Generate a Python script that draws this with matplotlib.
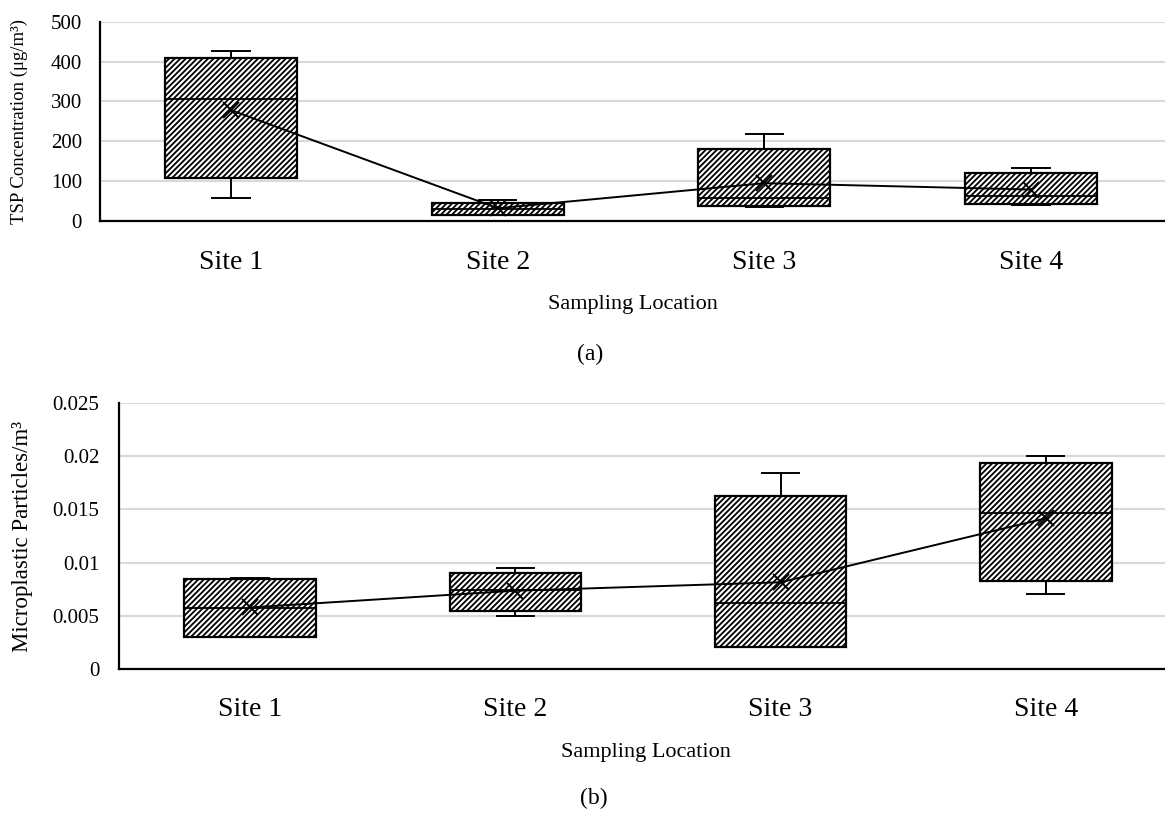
import matplotlib
matplotlib.use("Agg")
import matplotlib.pyplot as plt

plt.rcParams['font.family'] = ['Liberation Serif', 'DejaVu Serif']
plt.rcParams['hatch.linewidth'] = 1.3

sites = ["Site 1", "Site 2", "Site 3", "Site 4"]

# (a) TSP concentration (µg/m³)
tsp_whislo = [56, 14, 35, 40]
tsp_q1 = [106, 14, 37, 41]
tsp_med = [305, 28, 57, 62]
tsp_q3 = [409, 45, 180, 119]
tsp_whishi = [427, 52, 218, 132]
tsp_mean = [278, 31, 94, 78]

# (b) Microplastic particles/m³
mp_whislo = [0.0030, 0.0050, 0.0021, 0.0071]
mp_q1 = [0.0030, 0.00547, 0.00212, 0.00831]
mp_med = [0.00578, 0.00744, 0.00619, 0.01463]
mp_q3 = [0.00847, 0.00906, 0.01626, 0.01932]
mp_whishi = [0.00857, 0.00947, 0.01838, 0.01998]
mp_mean = [0.0058, 0.00737, 0.00816, 0.01416]

W, H = 1165, 814
fig = plt.figure(figsize=(W / 100, H / 100), dpi=100)


def make_stats(lo, q1, med, q3, hi):
    return [dict(whislo=a, q1=b, med=c, q3=d, whishi=e, label=s)
            for a, b, c, d, e, s in zip(lo, q1, med, q3, hi, sites)]


def draw(ax, stats, means, ylim, yticks, yticklabels, xpad, ypad):
    pos = list(range(len(stats)))
    bp = ax.bxp(stats, positions=pos, widths=0.495, patch_artist=True,
                showfliers=False, manage_ticks=False,
                boxprops=dict(facecolor='white', edgecolor='black', linewidth=1.6, hatch='//////'),
                medianprops=dict(color='black', linewidth=1.3),
                whiskerprops=dict(color='black', linewidth=1.4),
                capprops=dict(color='black', linewidth=1.4),
                capwidths=0.14)
    for b in bp['boxes']:
        b.set_zorder(2)
    ax.plot(pos, means, color='black', linewidth=1.4, marker='x', markersize=11,
            markeredgewidth=1.4, zorder=4)
    ax.set_ylim(*ylim)
    ax.set_yticks(yticks)
    ax.set_yticklabels(yticklabels, fontsize=15)
    ax.set_xticks(pos)
    ax.set_xticklabels(sites, fontsize=20)
    ax.tick_params(axis='both', length=0)
    ax.tick_params(axis='x', pad=xpad)
    ax.tick_params(axis='y', pad=ypad)
    ax.grid(axis='y', color='#d9d9d9', linewidth=1.5, zorder=0)
    ax.set_axisbelow(True)
    for s in ['top', 'right']:
        ax.spines[s].set_visible(False)
    for s in ['left', 'bottom']:
        ax.spines[s].set_color('black')
        ax.spines[s].set_linewidth(1.6)
        ax.spines[s].set_zorder(5)


# top axes
l1, r1, t1, b1 = 100, 1165, 22, 220.5
ax1 = fig.add_axes([l1 / W, 1 - b1 / H, (r1 - l1) / W, (b1 - t1) / H])
draw(ax1, make_stats(tsp_whislo, tsp_q1, tsp_med, tsp_q3, tsp_whishi), tsp_mean,
     (0, 500), [0, 100, 200, 300, 400, 500], ['0', '100', '200', '300', '400', '500'],
     21.5, 13)
ax1.set_xlim(-131 / 266.7, (1165 - 231) / 266.7)

# bottom axes
l2, r2, t2, b2 = 119, 1165, 402.7, 669.3
ax2 = fig.add_axes([l2 / W, 1 - b2 / H, (r2 - l2) / W, (b2 - t2) / H])
draw(ax2, make_stats(mp_whislo, mp_q1, mp_med, mp_q3, mp_whishi), mp_mean,
     (0, 0.025), [0, 0.005, 0.01, 0.015, 0.02, 0.025],
     ['0', '0.005', '0.01', '0.015', '0.02', '0.025'],
     20, 14)
ax2.set_xlim(-131 / 265.3, (1165 - 250) / 265.3)

fig.text(19 / W, 1 - 122 / H, 'TSP Concentration (μg/m³)', fontsize=13.5,
         rotation=90, ha='center', va='center')
fig.text(23 / W, 1 - 536 / H, 'Microplastic Particles/m³', fontsize=16.5,
         rotation=90, ha='center', va='center')
fig.text(633 / W, 1 - 304 / H, 'Sampling Location', fontsize=16, ha='center', va='center')
fig.text(590 / W, 1 - 354 / H, '(a)', fontsize=17, ha='center', va='center')
fig.text(646 / W, 1 - 752 / H, 'Sampling Location', fontsize=16, ha='center', va='center')
fig.text(594 / W, 1 - 798 / H, '(b)', fontsize=17, ha='center', va='center')

fig.savefig('out.png', dpi=100)
